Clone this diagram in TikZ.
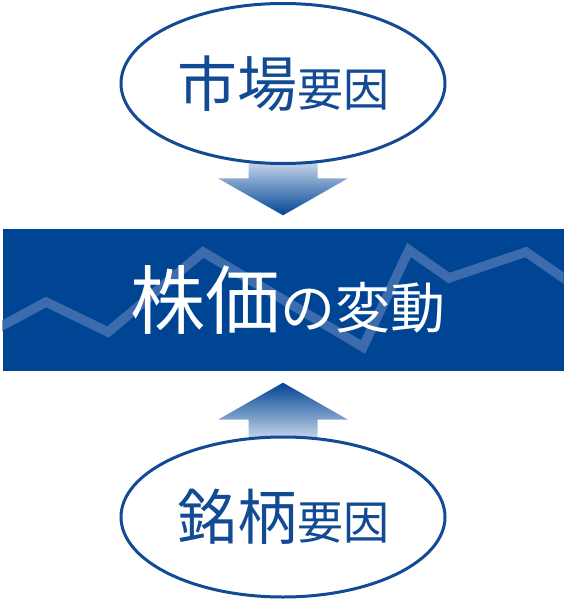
\documentclass[tikz,border=0pt]{standalone}
\usepackage{fontspec}
\usepackage{xcolor}
\newfontfamily\jpfont{Noto Sans CJK JP}
\usetikzlibrary{shapes.geometric,backgrounds,calc}
\definecolor{b1}{HTML}{134A94}
\definecolor{b2}{HTML}{004494}
\definecolor{b3}{HTML}{3C6CAE}
\definecolor{b4}{HTML}{CAD8EC}
\newcommand{\lgsz}{\fontsize{60}{60}\selectfont}
\newcommand{\smsz}{\fontsize{46}{46}\selectfont}
\newcommand{\lgtitle}{\fontsize{75}{75}\selectfont}
\newcommand{\smtitle}{\fontsize{55}{55}\selectfont}

\begin{document}
\begin{tikzpicture}[x=1pt, y=-1pt,
    factor/.style={ellipse, draw=b1, line width=3pt, fill=white, text=b1,
      minimum width=324pt, minimum height=160pt, inner sep=0pt, font=\jpfont},
    pricebox/.style={fill=b2, minimum width=561pt, minimum height=142pt, inner sep=0pt},
    trend/.style={draw=b3, line width=9.5pt, line join=miter},
    dnarrow/.style={top color=b4, bottom color=b2},
    uparrow/.style={top color=b2, bottom color=b4}]
  \useasboundingbox (0,0) rectangle (567,602);
  \node (market) [factor] at (283,83.5) {\lgsz 市場\smsz 要因};
  \node (price) [pricebox] at (283,299.5) {};
  \node (stock) [factor] at (283,517) {\lgsz 銘柄\smsz 要因};
  % 背景の折れ線
  \begin{scope}
    \clip (price.north west) rectangle (price.south east);
    \draw [trend] (-4,329) -- (46,302) -- (108,332) -- (203,252) -- (363,347) -- (409,250) -- (449,278) -- (526,252) -- (572,284);
  \end{scope}
  \node (title) [font=\jpfont, text=white, inner sep=0pt] at (288,300) {\lgtitle 株価\smtitle の変動};
  \begin{scope}[on background layer]
    \shade [dnarrow] ($(market.south)+(-34.5,-4)$) -- ($(price.north)+(-34.5,-50)$) -- ++(-30.5,0) -- ($(price.north)+(0,-13)$) -- ++(65,-37) -- ++(-30.5,0) -- ($(market.south)+(34.5,-4)$) -- cycle;
    \shade [uparrow] ($(stock.north)+(-34.5,4)$) -- ($(price.south)+(-34.5,49)$) -- ++(-30.5,0) -- ($(price.south)+(0,12)$) -- ++(65,37) -- ++(-30.5,0) -- ($(stock.north)+(34.5,4)$) -- cycle;
  \end{scope}
\end{tikzpicture}
\end{document}
